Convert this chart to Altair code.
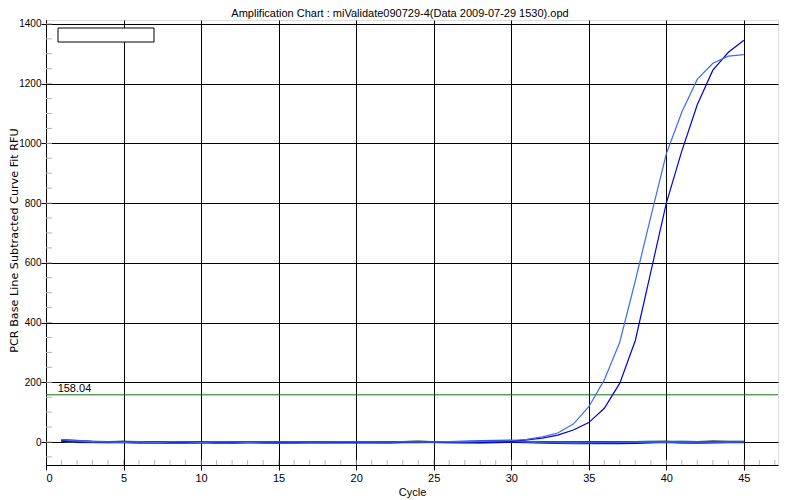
import altair as alt
import pandas as pd

cycles = list(range(1, 46))

light_blue = [8, 3, 1, 0, -1, 0, -1, 0, 0, -1, 0, 0, -1, 0, 0, 0, 0, 0, 0, 0,
              0, 0, 0, 0, 0, 1, 1, 2, 3,
              5, 9, 17, 30, 60, 118, 208, 335, 540, 755, 965, 1105, 1215, 1268, 1292, 1297]
dark_blue = [6, 2, 0, 0, -1, -1, 0, -1, -1, 0, -1, -1, -1, 0, -1, -1, 0, 0, -1, -1,
             0, 0, -1, 0, 0, 0, 1, 1, 2,
             3, 7, 13, 23, 40, 65, 113, 197, 340, 570, 800, 975, 1130, 1245, 1305, 1345]
flat_a = [4, 1, 1, 0, 1, 0, -1, -1, -1, 0, -2, -1, -1, 0, -1, -1, 0, -1, 0, -1,
          -1, -1, 0, 1, 0, -1, 0, -1, 0, 1, 0, -1, -2, -2, -1, 0, -1, -1, 0, 1,
          -2, -2, -1, 0, 0]
flat_b = [3, -1, -1, -1, 1, -3, -2, -3, -2, -2, -1, -3, -1, -1, -2, 0, -1, -1, 0, -1,
          -1, -2, 0, 2, -1, -1, 0, -2, -2, 0, 1, 0, -1, -1, -1, -1, -2, 0, 1, 1,
          1, 0, 3, 2, 1]
flat_c = [6, 3, 0, -1, 0, -1, -1, -1, -2, -1, -1, -1, 0, -2, -1, -2, -1, -1, 0, -1,
          0, -1, 0, -1, 0, 0, -1, -1, 0, 0, -1, -2, -3, -4, -3, -4, -4, -3, -2, 0,
          -1, -2, -1, 0, -1]
flat_d = [7, 4, 1, 0, -1, 0, -1, 0, -2, -1, 0, -1, 0, 0, -2, 0, -1, -2, 0, -1,
          0, -2, 0, 0, 0, 0, 2, 3, 4, 5, 1, -1, -2, -3, -2, -1, -1, 0, 1, 0,
          1, 0, -1, 0, 1]

flat_names = ["flat_b", "flat_a", "flat_c", "flat_d"]
flat_values = [flat_b, flat_a, flat_c, flat_d]
amp_names = ["dark_blue", "light_blue"]
amp_values = [dark_blue, light_blue]
series_names = flat_names + amp_names
series_colors = ["#7a7a7a", "#000000", "#10108a", "#2a55e8", "#0000d8", "#3d6cf0"]

title_text = "Amplification Chart : miValidate090729-4(Data 2009-07-29 1530).opd"
threshold = 158.04
x_ticks = [0, 5, 10, 15, 20, 25, 30, 35, 40, 45]
y_ticks = [0, 200, 400, 600, 800, 1000, 1200, 1400]
x_minor = list(range(1, 48))
y_minor = list(range(-50, 1401, 50))

XMIN, XMAX = 0, 47.2
YMIN, YMAX = -77, 1413


def long_frame(names, values):
    rows = []
    for name, vals in zip(names, values):
        for c, v in zip(cycles, vals):
            rows.append({"series": name, "cycle": c, "rfu": v})
    return pd.DataFrame(rows)


df_flat = long_frame(flat_names, flat_values)
df_amp = long_frame(amp_names, amp_values)

FONT = "Liberation Sans"

xscale = alt.Scale(domain=[XMIN, XMAX], nice=False, zero=False)
yscale = alt.Scale(domain=[YMIN, YMAX], nice=False, zero=False)
cscale = alt.Scale(domain=series_names, range=series_colors)

xaxis = alt.Axis(values=x_ticks, format="d", grid=True, gridColor="black", gridOpacity=1,
                 gridWidth=1, domainColor="black", tickColor="black", tickSize=5,
                 labelColor="black", labelFont=FONT, labelFontSize=11, labelPadding=2,
                 title="Cycle", titleFont=FONT, titleFontSize=11, titleFontWeight="normal",
                 titleColor="black", titleBaseline="alphabetic", titleY=30)
yaxis = alt.Axis(values=y_ticks, format="d", grid=True, gridColor="black", gridOpacity=1,
                 gridWidth=1, domainColor="black", tickColor="black", tickSize=5,
                 labelColor="black", labelFont=FONT, labelFontSize=10, labelPadding=0,
                 title="PCR Base Line Subtracted Curve Fit RFU",
                 titleFont="DejaVu Sans", titleFontSize=11.2, titleFontWeight="normal",
                 titleColor="black", titleAngle=270, titleBaseline="alphabetic",
                 titleAlign="center", titleX=-29, titleY=220)

flat_lines = alt.Chart(df_flat).mark_line(strokeWidth=2, clip=True).encode(
    x=alt.X("cycle:Q", scale=xscale, axis=xaxis),
    y=alt.Y("rfu:Q", scale=yscale, axis=yaxis),
    color=alt.Color("series:N", scale=cscale, legend=None),
    order=alt.Order("cycle:Q"),
    detail="series:N",
)
amp_lines = alt.Chart(df_amp).mark_line(strokeWidth=1.2, clip=True).encode(
    x=alt.X("cycle:Q", scale=xscale),
    y=alt.Y("rfu:Q", scale=yscale),
    color=alt.Color("series:N", scale=cscale, legend=None),
    order=alt.Order("cycle:Q"),
    detail="series:N",
)

xm = pd.DataFrame({"x": x_minor, "y": [YMIN] * len(x_minor), "y2": [-60] * len(x_minor)})
x_minor_layer = alt.Chart(xm).mark_rule(color="#b8b8b8", strokeWidth=1, clip=True).encode(
    x=alt.X("x:Q", scale=xscale), y=alt.Y("y:Q", scale=yscale), y2="y2:Q")

ym = pd.DataFrame({"y": y_minor, "x": [0] * len(y_minor), "x2": [0.38] * len(y_minor)})
y_minor_layer = alt.Chart(ym).mark_rule(color="#b0b0b0", strokeWidth=1, clip=True).encode(
    y=alt.Y("y:Q", scale=yscale), x=alt.X("x:Q", scale=xscale), x2="x2:Q")

th = pd.DataFrame({"y": [threshold], "label": [f"{threshold:.2f}"], "x": [0.75]})
th_rule = alt.Chart(th).mark_rule(color="#137313", strokeWidth=1).encode(
    y=alt.Y("y:Q", scale=yscale))
th_text = alt.Chart(th).mark_text(align="left", baseline="bottom", dy=-1, font=FONT,
                                  fontSize=11, color="black").encode(
    x=alt.X("x:Q", scale=xscale), y=alt.Y("y:Q", scale=yscale), text="label:N")

legend_box = alt.Chart(pd.DataFrame({"a": [0]})).mark_rect(
    fill="white", stroke="black", strokeWidth=1).encode(
    x=alt.value(12), x2=alt.value(108), y=alt.value(8), y2=alt.value(22))

title_mark = alt.Chart(pd.DataFrame({"t": [title_text]})).mark_text(
    align="center", baseline="alphabetic", font=FONT, fontSize=11, color="black").encode(
    x=alt.value(354), y=alt.value(-3), text="t:N")

chart = alt.layer(
    x_minor_layer, y_minor_layer, th_rule, flat_lines, amp_lines, th_text, legend_box,
    title_mark
).properties(
    width=732, height=445,
    autosize=alt.AutoSizeParams(type="none"),
    padding={"left": 38, "top": 12, "right": 10, "bottom": 34},
).configure_view(stroke="black", strokeWidth=1).configure(background="white")

chart.save("out.html", embed_options={"renderer": "svg", "actions": False})
